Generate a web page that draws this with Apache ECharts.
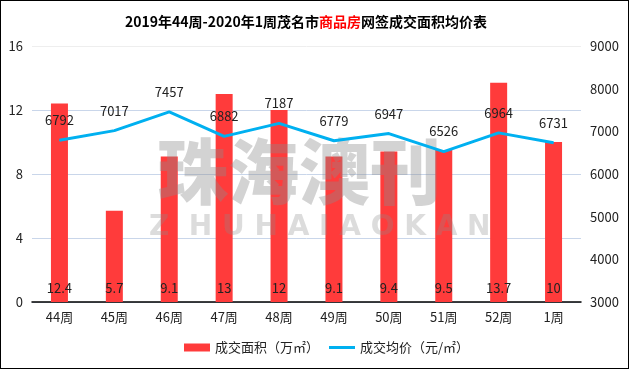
<!DOCTYPE html>
<html>
<head>
<meta charset="utf-8">
<script src="https://cdn.jsdelivr.net/npm/echarts@6/dist/echarts.min.js"></script>
<style>
html,body{margin:0;padding:0;background:#fff;}
#c{width:627px;height:367px;border:1px solid #000;}
</style>
</head>
<body>
<div id="c"></div>
<script>
const categories = ['44周','45周','46周','47周','48周','49周','50周','51周','52周','1周'];
const areaValues = [12.4,5.7,9.1,13,12,9.1,9.4,9.5,13.7,10];
const priceValues = [6792,7017,7457,6882,7187,6779,6947,6526,6964,6731];
const areaName = '成交面积（万㎡）';
const priceName = '成交均价（元/㎡）';

const font = '"Microsoft YaHei","Noto Sans CJK SC",sans-serif';
const chart = echarts.init(document.getElementById('c'));
chart.setOption({
  animation:false,
  textStyle:{fontFamily:font},
  title:{
    text:'{a|2019年44周-2020年1周茂名市}{b|商品房}{a|网签成交面积均价表}',
    left:119, top:9,
    textStyle:{
      rich:{
        a:{fontSize:14,fontWeight:'bold',color:'#000',fontFamily:font},
        b:{fontSize:14,fontWeight:'bold',color:'#ff0000',fontFamily:font}
      }
    }
  },
  legend:{
    bottom:9, left:178, itemGap:10,
    itemWidth:26, itemHeight:8,
    textStyle:{fontSize:13,color:'#222',fontFamily:font},
    data:[{name:areaName,icon:'rect'},
          {name:priceName,icon:'path://M0,0 L26,0 L26,3 L0,3 Z'}]
  },
  grid:{left:31,right:47,top:45,bottom:66},
  xAxis:{
    type:'category', data:categories,
    axisLine:{lineStyle:{color:'#000',width:1.5}},
    axisTick:{show:false},
    axisLabel:{fontSize:13,color:'#222',margin:9}
  },
  yAxis:[{
    type:'value', min:0, max:16, interval:4,
    axisLine:{show:false}, axisTick:{show:false},
    axisLabel:{fontSize:13,color:'#222',margin:9},
    splitLine:{lineStyle:{color:['#c9d6ea','#c9d6ea','#c9d6ea','#c9d6ea','#eeeeee']}}
  },{
    type:'value', min:3000, max:9000, interval:1000,
    axisLine:{show:false}, axisTick:{show:false},
    axisLabel:{fontSize:13,color:'#222',margin:9,formatter:v=>String(v)},
    splitLine:{show:false}
  }],
  graphic:[
    {type:'text', left:156, top:135, z:5, silent:true,
     style:{text:'珠海澳刊', font:'900 71px "Noto Sans CJK SC",sans-serif', fill:'rgba(140,140,140,0.38)'}},
    {type:'text', left:148, top:213, z:5, silent:true,
     style:{text:'Z  H U H A I A O K A N', font:'bold 28px "DejaVu Sans",sans-serif', fill:'rgba(140,140,140,0.3)'}}
  ],
  series:[{
    name:areaName, type:'bar', data:areaValues, yAxisIndex:0,
    barWidth:17, z:1,
    itemStyle:{color:'#ff3b3b'},
    label:{show:true, position:'insideBottom', distance:7, color:'#222', fontSize:13}
  },{
    name:priceName, type:'line', data:priceValues, yAxisIndex:1,
    z:10, symbol:'circle', symbolSize:1, showSymbol:true,
    lineStyle:{color:'#00b0f0', width:3},
    itemStyle:{color:'#00b0f0'},
    label:{show:true, position:'top', distance:13, color:'#222', fontSize:13}
  }]
});
</script>
</body>
</html>
